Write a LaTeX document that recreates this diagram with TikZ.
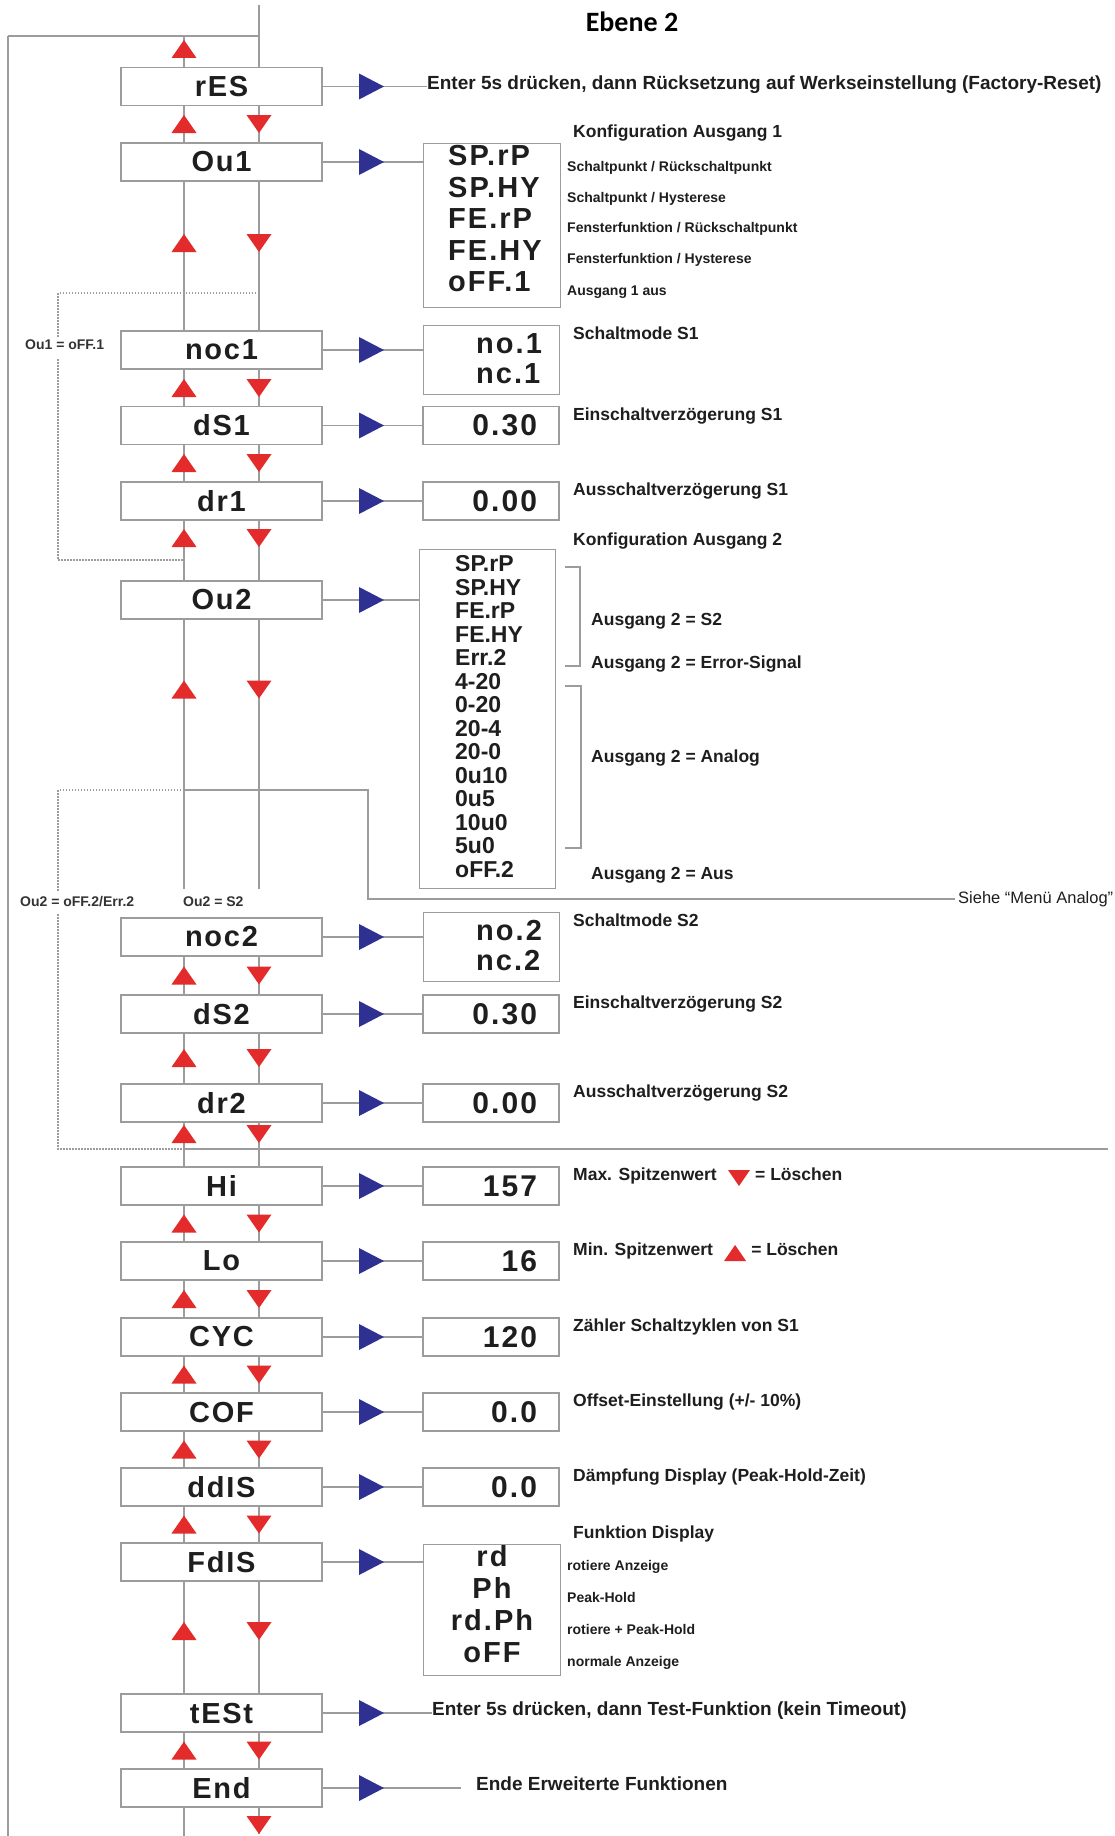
\documentclass[tikz,border=0pt]{standalone}
\usepackage{fontspec}
\setmainfont{Liberation Sans}
\newfontfamily\calibrifont{Carlito}
\usetikzlibrary{calc}
\definecolor{tred}{HTML}{E32B2B}
\definecolor{tblue}{HTML}{2E3192}
\definecolor{lgray}{HTML}{9C9C9C}
\definecolor{txt}{HTML}{1E1E1E}
\tikzset{
 conn/.style={draw=lgray, line width=1.3pt},
 dotconn/.style={draw=lgray, line width=1.1pt, dash pattern=on 1.5pt off 1.5pt},
 mainbox/.style={draw=lgray, line width=1.3pt, fill=white, minimum width=201pt, minimum height=38pt, inner sep=0pt, text=txt,
   font=\fontsize{29}{29}\selectfont\bfseries\addfontfeature{LetterSpace=6}},
 valbox/.style={draw=lgray, line width=1.3pt, minimum height=38pt, text width=136pt, align=right, inner xsep=0pt, inner ysep=0pt, text=txt,
   font=\fontsize{30}{30}\selectfont\bfseries\addfontfeature{LetterSpace=7}},
 listbox/.style={draw=lgray, line width=1.3pt, inner sep=0pt, anchor=north west},
 bigitem/.style={anchor=west, inner sep=0pt, text=txt, text height=0.72em, text depth=0pt, font=\fontsize{29}{29}\selectfont\bfseries\addfontfeature{LetterSpace=7}},
 miditem/.style={anchor=west, inner sep=0pt, text=txt, text height=0.72em, text depth=0pt, font=\fontsize{23}{23}\selectfont\bfseries},
 biglbl/.style={anchor=west, inner sep=0pt, text=txt, text height=0.72em, text depth=0.2em, font=\fontsize{19}{19}\selectfont\bfseries},
 lbl/.style={anchor=west, inner sep=0pt, text=txt, text height=0.72em, text depth=0.2em, font=\fontsize{17.5}{17.5}\selectfont\bfseries},
 slbl/.style={anchor=west, inner sep=0pt, text=txt, text height=0.72em, text depth=0.2em, font=\fontsize{14}{14}\selectfont\bfseries},
 glbl/.style={anchor=west, inner sep=0pt, text=black!80, text height=0.72em, text depth=0.2em, font=\fontsize{14}{14}\selectfont\bfseries},
 upt/.pic={\fill[tred] (-12.5,9) -- (12.5,9) -- (0,-9) -- cycle;},
 dnt/.pic={\fill[tred] (-12.5,-9) -- (12.5,-9) -- (0,9) -- cycle;},
 supt/.pic={\fill[tred] (-11,8) -- (11,8) -- (0,-8) -- cycle;},
 sdnt/.pic={\fill[tred] (-11,-8) -- (11,-8) -- (0,8) -- cycle;},
 rtt/.pic={\fill[tblue] (-12.5,-13) -- (-12.5,13) -- (12.5,0) -- cycle;},
}
\newcommand\colpair[2]{\draw[conn] (#1.south -| U) -- (#2.north -| U); \draw[conn] (#1.south -| D) -- (#2.north -| D);}
\newcommand\tripair[1]{\pic at (184,#1) {upt}; \pic at (259,#1) {dnt};}
\begin{document}
\begin{tikzpicture}[x=1pt,y=-1pt]
\fill[white] (0,0) rectangle (1115,1836);
\useasboundingbox (0,0) rectangle (1115,1836);
\coordinate (U) at (184,0);
\coordinate (D) at (259,0);

% title
\node[font=\calibrifont\bfseries\fontsize{28}{28}\selectfont, text=black, inner sep=0pt] (title) at (632,22) {Ebene 2};

% main boxes
\node[mainbox] (res)    at (221.5,86.5) {rES};
\node[mainbox] (ouone)  at (221.5,162) {Ou1};
\node[mainbox] (nocone) at (221.5,350) {noc1};
\node[mainbox] (dsone)  at (221.5,425.5) {dS1};
\node[mainbox] (drone)  at (221.5,501) {dr1};
\node[mainbox] (outwo)  at (221.5,600) {Ou2};
\node[mainbox] (noctwo) at (221.5,937) {noc2};
\node[mainbox] (dstwo)  at (221.5,1014) {dS2};
\node[mainbox] (drtwo)  at (221.5,1103) {dr2};
\node[mainbox] (hi)     at (221.5,1186) {Hi};
\node[mainbox] (lo)     at (221.5,1261) {Lo};
\node[mainbox] (cyc)    at (221.5,1337) {CYC};
\node[mainbox] (cof)    at (221.5,1412) {COF};
\node[mainbox] (ddis)   at (221.5,1487) {ddIS};
\node[mainbox] (fdis)   at (221.5,1562) {FdIS};
\node[mainbox] (test)   at (221.5,1713) {tESt};
\node[mainbox] (end)    at (221.5,1788) {End};

% top loop
\coordinate (topD) at (259,5);
\coordinate (topL) at (8,36);
\coordinate (botL) at (8,1836);
\draw[conn] (topD) -- (res.north -| D);
\draw[conn] (topL) -- (259,36);
\draw[conn] (topL) -- (botL);
\draw[conn] (184,36) -- (res.north -| U);
\pic at (184,49) {upt};

% column connections
\colpair{res}{ouone}
\colpair{ouone}{nocone}
\colpair{nocone}{dsone}
\colpair{dsone}{drone}
\colpair{drone}{outwo}
\colpair{noctwo}{dstwo}
\colpair{dstwo}{drtwo}
\colpair{drtwo}{hi}
\colpair{hi}{lo}
\colpair{lo}{cyc}
\colpair{cyc}{cof}
\colpair{cof}{ddis}
\colpair{ddis}{fdis}
\colpair{fdis}{test}
\colpair{test}{end}
\draw[conn] (outwo.south -| U) -- (184,889);
\draw[conn] (outwo.south -| D) -- (259,889);
\draw[conn] (end.south -| U) -- (184,1836);
\draw[conn] (end.south -| D) -- (259,1834);

% red triangles
\tripair{124}
\tripair{243}
\tripair{388}
\tripair{463}
\tripair{538}
\tripair{689.5}
\tripair{975.5}
\tripair{1058}
\tripair{1134}
\tripair{1223.5}
\tripair{1299}
\tripair{1374.5}
\tripair{1449.5}
\tripair{1524.5}
\tripair{1631}
\tripair{1750.5}
\pic at (259,1825) {dnt};

% dotted bypasses
\draw[dotconn] (259,293) -- (58,293) -- (58,337);
\draw[dotconn] (58,359) -- (58,560) -- (184,560);
\node[glbl] (lblouone) at (25,347) {Ou1 = oFF.1};
\draw[dotconn] (184,790) -- (58,790) -- (58,892);
\draw[dotconn] (58,914) -- (58,1149) -- (184,1149);
\node[glbl] (lblouoff) at (20,904) {Ou2 = oFF.2/Err.2};
\node[glbl] (lblous) at (183,904) {Ou2 = S2};
\draw[conn] (184,790) -- (368,790) -- (368,899) -- (955,899);
\node[anchor=west, inner sep=0pt, font=\fontsize{16.5}{16.5}\selectfont, text=txt] (siehe) at (958,899) {Siehe “Menü Analog”};
\draw[conn] (184,1149) -- (1108,1149);

% ---- right side ----
% rES
\node[biglbl] (reslbl) at (427,86.5) {Enter 5s drücken, dann Rücksetzung auf Werkseinstellung (Factory-Reset)};
\draw[conn] (res.east) -- (res.east -| reslbl.west);
\pic at (371.5,86.5) {rtt};

% Ou1
\node[listbox, minimum width=137pt, minimum height=164pt] (ouonelist) at (423,143) {};
\draw[conn] (ouone.east) -- (ouone.east -| ouonelist.west);
\pic at (371.5,162) {rtt};
\node[lbl] (kfgone) at (573,135) {Konfiguration Ausgang 1};
\node[bigitem] (oa) at (448,162) {SP.rP};
\node[bigitem] (ob) at (448,193.5) {SP.HY};
\node[bigitem] (oc) at (448,225) {FE.rP};
\node[bigitem] (od) at (448,256.5) {FE.HY};
\node[bigitem] (oe) at (448,288) {oFF.1};
\node[slbl] (la) at (567,169) {Schaltpunkt / Rückschaltpunkt};
\node[slbl] (lb) at (567,200) {Schaltpunkt / Hysterese};
\node[slbl] (lc) at (567,230) {Fensterfunktion / Rückschaltpunkt};
\node[slbl] (ld) at (567,261) {Fensterfunktion / Hysterese};
\node[slbl] (le) at (567,293) {Ausgang 1 aus};

% noc1
\node[listbox, minimum width=136pt, minimum height=69pt] (noconelist) at (423,325) {};
\draw[conn] (nocone.east) -- (nocone.east -| noconelist.west);
\pic at (371.5,350) {rtt};
\node[bigitem] (noa) at (476,350) {no.1};
\node[bigitem] (nob) at (476,380) {nc.1};
\node[lbl] (smone) at (573,337) {Schaltmode S1};

% dS1
\node[valbox] (dsoneval) at (491,425.5) {0.30\hspace*{22pt}};
\draw[conn] (dsone.east) -- (dsoneval.west);
\pic at (371.5,425.5) {rtt};
\node[lbl] (esone) at (573,418) {Einschaltverzögerung S1};

% dr1
\node[valbox] (droneval) at (491,501) {0.00\hspace*{22pt}};
\draw[conn] (drone.east) -- (droneval.west);
\pic at (371.5,501) {rtt};
\node[lbl] (asone) at (573,493) {Ausschaltverzögerung S1};

% Ou2
\node[listbox, minimum width=136pt, minimum height=339pt] (outwolist) at (419,549) {};
\draw[conn] (outwo.east) -- (outwo.east -| outwolist.west);
\pic at (371.5,600) {rtt};
\node[lbl] (kfgtwo) at (573,543) {Konfiguration Ausgang 2};
\foreach \t [count=\i] in {SP.rP,SP.HY,FE.rP,FE.HY,Err.2,4-20,0-20,20-4,20-0,0u10,0u5,10u0,5u0,oFF.2}
  \node[miditem] (ot\i) at (455,{568+(\i-1)*23.5}) {\t};
\draw[conn] (565,567) -- (580,567) -- (580,666) -- (565,666);
\draw[conn] (565,686) -- (581,686) -- (581,848) -- (565,848);
\node[lbl] (otwos) at (591,623) {Ausgang 2 = S2};
\node[lbl] (otwoe) at (591,666) {Ausgang 2 = Error-Signal};
\node[lbl] (otwoa) at (591,760) {Ausgang 2 = Analog};
\node[lbl] (otwoo) at (591,877) {Ausgang 2 = Aus};

% noc2
\node[listbox, minimum width=136pt, minimum height=69pt] (noctwolist) at (423,912) {};
\draw[conn] (noctwo.east) -- (noctwo.east -| noctwolist.west);
\pic at (371.5,937) {rtt};
\node[bigitem] (ntwa) at (476,937) {no.2};
\node[bigitem] (ntwb) at (476,967) {nc.2};
\node[lbl] (smtwo) at (573,924) {Schaltmode S2};

% dS2
\node[valbox] (dstwoval) at (491,1014) {0.30\hspace*{22pt}};
\draw[conn] (dstwo.east) -- (dstwoval.west);
\pic at (371.5,1014) {rtt};
\node[lbl] (estwo) at (573,1006) {Einschaltverzögerung S2};

% dr2
\node[valbox] (drtwoval) at (491,1103) {0.00\hspace*{22pt}};
\draw[conn] (drtwo.east) -- (drtwoval.west);
\pic at (371.5,1103) {rtt};
\node[lbl] (astwo) at (573,1095) {Ausschaltverzögerung S2};

% Hi
\node[valbox] (hival) at (491,1186) {157\hspace*{22pt}};
\draw[conn] (hi.east) -- (hival.west);
\pic at (371.5,1186) {rtt};
\node[lbl] (hilbl) at (573,1178) {Max. Spitzenwert};
\pic at ($(hilbl.east)+(22,0)$) {sdnt};
\node[lbl] (hilblb) at ($(hilbl.east)+(38,0)$) {= Löschen};

% Lo
\node[valbox] (loval) at (491,1261) {16\hspace*{22pt}};
\draw[conn] (lo.east) -- (loval.west);
\pic at (371.5,1261) {rtt};
\node[lbl] (lolbl) at (573,1253) {Min. Spitzenwert};
\pic at ($(lolbl.east)+(22,0)$) {supt};
\node[lbl] (lolblb) at ($(lolbl.east)+(38,0)$) {= Löschen};

% CYC
\node[valbox] (cycval) at (491,1337) {120\hspace*{22pt}};
\draw[conn] (cyc.east) -- (cycval.west);
\pic at (371.5,1337) {rtt};
\node[lbl] (cyclbl) at (573,1329) {Zähler Schaltzyklen von S1};

% COF
\node[valbox] (cofval) at (491,1412) {0.0\hspace*{22pt}};
\draw[conn] (cof.east) -- (cofval.west);
\pic at (371.5,1412) {rtt};
\node[lbl] (coflbl) at (573,1404) {Offset-Einstellung (+/- 10\%)};

% ddIS
\node[valbox] (ddisval) at (491,1487) {0.0\hspace*{22pt}};
\draw[conn] (ddis.east) -- (ddisval.west);
\pic at (371.5,1487) {rtt};
\node[lbl] (ddislbl) at (573,1479) {Dämpfung Display (Peak-Hold-Zeit)};

% FdIS
\node[listbox, minimum width=137pt, minimum height=131pt] (fdislist) at (423,1544) {};
\draw[conn] (fdis.east) -- (fdis.east -| fdislist.west);
\pic at (371.5,1562) {rtt};
\node[lbl] (fdislbl) at (573,1536) {Funktion Display};
\node[bigitem, anchor=center] (fa) at (492,1563) {rd};
\node[bigitem, anchor=center] (fb) at (492,1595) {Ph};
\node[bigitem, anchor=center] (fc) at (492,1627) {rd.Ph};
\node[bigitem, anchor=center] (fd) at (492,1659) {oFF};
\node[slbl] (fla) at (567,1568) {rotiere Anzeige};
\node[slbl] (flb) at (567,1600) {Peak-Hold};
\node[slbl] (flc) at (567,1632) {rotiere + Peak-Hold};
\node[slbl] (fld) at (567,1664) {normale Anzeige};

% tESt
\node[biglbl] (testlbl) at (432,1713) {Enter 5s drücken, dann Test-Funktion (kein Timeout)};
\draw[conn] (test.east) -- (test.east -| testlbl.west);
\pic at (371.5,1713) {rtt};

% End
\node[biglbl] (endlbl) at (476,1788) {Ende Erweiterte Funktionen};
\coordinate (endline) at (461,1788);
\draw[conn] (end.east) -- (endline);
\pic at (371.5,1788) {rtt};
\end{tikzpicture}
\end{document}
